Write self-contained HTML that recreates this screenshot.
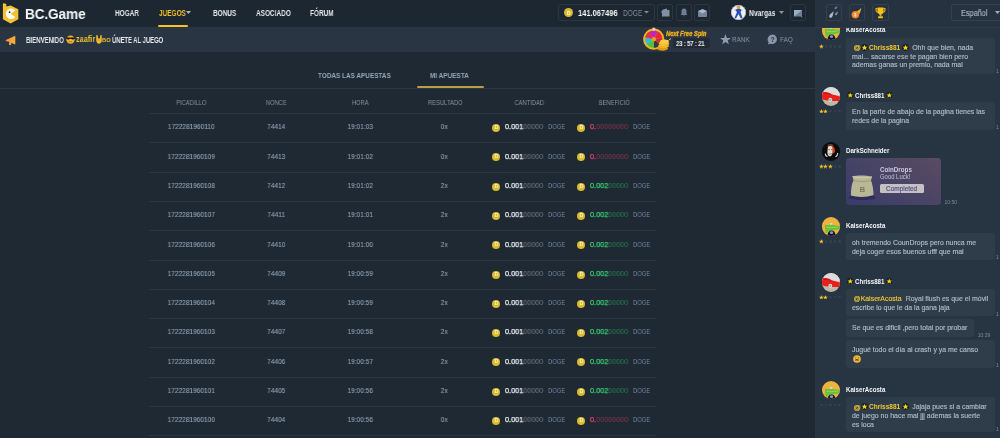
<!DOCTYPE html>
<html><head><meta charset="utf-8">
<style>
*{margin:0;padding:0;box-sizing:border-box}
html,body{width:1000px;height:438px;overflow:hidden;background:#1e2933;font-family:"Liberation Sans",sans-serif;}
.a{position:absolute;white-space:nowrap}
#hdr{position:absolute;left:0;top:0;width:815px;height:27px;background:#1d2732}
#bar{position:absolute;left:0;top:27px;width:815px;height:24.5px;background:#293543}
#main{position:absolute;left:0;top:52px;width:815px;height:386px;background:#1e2933}
#chat{position:absolute;left:815px;top:0;width:185px;height:438px;background:#263240}
.nav{font-size:8.6px;font-weight:bold;color:#e3e6e9;top:7.6px;transform:scaleX(.75);transform-origin:left top}
.ibox{position:absolute;border:1px solid #2c3642;border-radius:2px}
.th{font-size:6px;color:#8693a0;top:98.5px;transform-origin:center top}
.td{font-size:7.5px;color:#a5adb6}
.hl{position:absolute;left:149px;width:507px;height:1px;background:#2b3540}
body>*{will-change:transform}
</style>
<style>
.cw{font-size:8.6px;font-weight:bold;color:#e4e7ea;transform:scaleX(.72);transform-origin:left top;letter-spacing:-0.1px}
.tab{font-size:8px;font-weight:bold;color:#93a6ba;top:70.8px;transform:scaleX(.8);transform-origin:left top}
.th{text-align:center;font-size:6.8px!important;transform:scaleX(.85)}
.td{text-align:center;font-size:7.9px;color:#90a0b2;transform:scaleX(.83);-webkit-text-stroke:.12px #90a0b2}
.amt{font-size:7.4px;transform:scaleX(.98);transform-origin:left top}
.dg{font-size:7.6px;color:#6f88a2;transform:scaleX(.77);transform-origin:left top}
.coin{position:absolute;width:8px;height:8px;border-radius:50%;background:#d9bb2c}.coin::after{content:'D';position:absolute;left:2.4px;top:1.2px;font-size:5.5px;font-weight:bold;color:#f6f0d0;line-height:5.5px}
</style>
</head><body>
<div id="hdr"></div>
<div id="bar"></div>
<div id="main"></div>
<div id="chat"></div>

<!-- logo -->
<svg class="a" style="left:0;top:0" width="22" height="26" viewBox="0 0 22 26">
<path d="M2.9 4 Q2.9 3 3.9 3.3 L6.3 4.1 L6.3 6.6 L10.6 5.4 L18.3 9.3 L18.3 19.3 L10.6 23.5 L2.9 19.3Z" fill="#f2c230"/>
<path d="M10.6 13.8 L15.3 10.6 A5.3 5.3 0 1 0 15.3 17 Z" fill="#fdfcf6"/>
<circle cx="9.6" cy="12.2" r=".9" fill="#2b2b2b"/>
</svg>
<div class="a" style="left:25px;top:6.2px;font-size:14px;font-weight:bold;color:#fbfbfc;letter-spacing:-0.1px;transform:scaleX(.97);transform-origin:left top">BC.Game</div>

<div class="a nav" style="left:115px">HOGAR</div>
<div class="a nav" style="left:159px;color:#f3c229">JUEGOS</div>
<svg class="a" style="left:186px;top:11px" width="5" height="3"><path d="M0 0H5L2.5 3Z" fill="#aeb6bf"/></svg>
<div class="a" style="left:158px;top:25px;width:30px;height:2px;background:#f3c229;border-radius:1px"></div>
<div class="a nav" style="left:213px">BONUS</div>
<div class="a nav" style="left:256px">ASOCIADO</div>
<div class="a nav" style="left:310px">FÓRUM</div>


<!-- header right -->
<div class="ibox" style="left:558px;top:4px;width:97px;height:17px"></div>
<div class="a" style="left:564px;top:8.2px;width:9.4px;height:9.4px;border-radius:50%;background:#dcb92a"></div>
<div class="a" style="left:566.5px;top:9.5px;font-size:5px;color:#fff;font-weight:bold">D</div>
<div class="a" style="left:578px;top:8px;font-size:8.5px;font-weight:bold;color:#f2f4f6;transform:scaleX(.88);transform-origin:left top">141.067496</div>
<div class="a" style="left:623px;top:7.6px;font-size:8.4px;color:#7d8a98;transform:scaleX(.78);transform-origin:left top">DOGE</div>
<svg class="a" style="left:644px;top:11px" width="5" height="3"><path d="M0 0H5L2.5 2.6Z" fill="#7d8a98"/></svg>
<div class="ibox" style="left:657px;top:4px;width:16px;height:17px"></div>
<div class="ibox" style="left:676px;top:4px;width:16px;height:17px"></div>
<div class="ibox" style="left:694px;top:4px;width:16px;height:17px"></div>
<!-- wallet icon -->
<svg class="a" style="left:661px;top:8px" width="9" height="9" viewBox="0 0 9 9"><path d="M2 1.5 L6 0.5 L6 2 L8.5 2 L8.5 8.5 L1 8.5 L1 5 L0 4Z" fill="#7f90a3"/></svg>
<!-- bell -->
<svg class="a" style="left:680px;top:8px" width="8" height="9" viewBox="0 0 8 9"><path d="M4 0.5C2 0.5 1.5 2 1.5 4 L1.5 6 L0.5 7 L7.5 7 L6.5 6 L6.5 4 C6.5 2 6 0.5 4 0.5Z M3 7.6 H5 L4 8.6Z" fill="#6f8095"/></svg>
<!-- mail -->
<svg class="a" style="left:697.5px;top:8.5px" width="9" height="8" viewBox="0 0 9 8"><rect x="0" y="1.5" width="9" height="6.5" rx="1" fill="#76869a"/><path d="M0.3 2 L4.5 0 L8.7 2 L4.5 4.6Z" fill="#a9b9c9"/></svg>
<div class="a" style="left:722px;top:5px;width:1px;height:16px;background:#1f2831"></div>
<!-- avatar -->
<div class="a" style="left:731px;top:5px;width:15px;height:15px;border-radius:50%;background:#eef0f3;overflow:hidden;box-shadow:inset 0 0 0 .6px #9aa4ae">
<svg width="15" height="15" viewBox="0 0 15 15"><path d="M5.5 1.5 C6 0.5 9 0.5 9.5 1.5 L9 4 L6 4Z" fill="#e0a048"/><path d="M4 5 L6 4 L9 4 L11 5 L9.5 7 L11.5 13 L9.8 13.5 L7.5 9 L5 13.5 L3.5 13 L6 7Z" fill="#2a4fb0"/><path d="M3 4.5 L4.5 6 M12 4.5 L10.5 6" stroke="#c8ccd4" stroke-width="1"/></svg></div>
<div class="a" style="left:749px;top:8px;font-size:8.5px;font-weight:bold;color:#e6e9ec;transform:scaleX(.79);transform-origin:left top">Nvargas</div>
<svg class="a" style="left:779px;top:11px" width="5" height="3"><path d="M0 0H5L2.5 3Z" fill="#8a96a3"/></svg>
<div class="ibox" style="left:790px;top:4px;width:16px;height:17px"></div>
<svg class="a" style="left:793.5px;top:9.5px" width="9" height="8" viewBox="0 0 9 8"><path d="M0 0H8V6.5L8.5 8L6.5 6.5H0Z" fill="#6d8096"/><path d="M0 0H8L0 6.5Z" fill="#9db0c4"/></svg>

<!-- chat header -->
<div class="a" style="left:815px;top:27px;width:185px;height:1px;background:#2f3b48"></div>
<div class="ibox" style="left:826px;top:4px;width:16px;height:17px;border-color:#33404d"></div>
<div class="ibox" style="left:849px;top:4px;width:16px;height:17px;border-color:#33404d"></div>
<div class="ibox" style="left:872px;top:4px;width:17px;height:17px;border-color:#33404d"></div>
<div class="ibox" style="left:951px;top:4px;width:52px;height:17px;border-color:#33404d"></div>
<div class="a" style="left:961px;top:7.8px;font-size:8.5px;color:#a9b4c0;transform:scaleX(.86);transform-origin:left top;-webkit-text-stroke:.15px #a9b4c0">Español</div>
<svg class="a" style="left:995px;top:11px" width="5" height="3"><path d="M0 0H5L2.5 3Z" fill="#a3adb8"/></svg>
<!-- chat header icons -->
<svg class="a" style="left:826px;top:4px" width="16" height="17" viewBox="0 0 16 17">
<path d="M3.2 12.3 C3.2 10.5 5.5 8.6 7.8 7.2 C7 9.5 7.2 12 5.6 13.4 C4.6 14.2 3.2 13.8 3.2 12.3Z" fill="#a9b8c7"/>
<path d="M8.5 4.2 C8.6 3.4 10 2.5 11.6 2 C11 3.2 11 4.6 10 5.1 C9.3 5.5 8.4 5.1 8.5 4.2Z" fill="#6f8093"/>
<path d="M9 10.2 C9.1 9.2 10.5 8.1 12.1 7.5 C11.5 9 11.5 10.6 10.5 11.2 C9.8 11.6 8.9 11.1 9 10.2Z" fill="#7d8ea0"/>
</svg>
<svg class="a" style="left:849px;top:4px" width="16" height="17" viewBox="0 0 16 17">
<path d="M12.3 3.2 C11.5 5 10.5 5.5 9.6 6.2 C8.5 7 7 7.5 6 8 L9.5 12 C10.5 10 11 8.5 11.5 7 C12 5.5 12.3 4.5 12.3 3.2Z" fill="#f6b43a"/>
<circle cx="6.3" cy="10.8" r="3.8" fill="#f07a26"/>
<circle cx="6.3" cy="10.8" r="2.8" fill="#f58c36"/>
<path d="M6.3 8.8 V12.8 M5.2 9.8 H7 Q7.4 10.3 6.3 10.8 Q5.2 11.3 5.6 11.8 H7.4" stroke="#fde2c6" stroke-width=".8" fill="none"/>
</svg>
<svg class="a" style="left:872px;top:4px" width="17" height="17" viewBox="0 0 17 17">
<path d="M5.5 3.5 H11.5 V7.5 C11.5 9.5 10 10.6 8.5 10.6 C7 10.6 5.5 9.5 5.5 7.5Z" fill="#f3c21d"/>
<path d="M5.6 4.6 H4 C3.8 7 4.8 8.2 6 8.3 M11.4 4.6 H13 C13.2 7 12.2 8.2 11 8.3" stroke="#e9b016" stroke-width="1.1" fill="none"/>
<rect x="7.7" y="10.2" width="1.6" height="2.3" fill="#e8b018"/>
<rect x="6" y="12.3" width="5" height="1.9" rx=".4" fill="#f0bc1c"/>
</svg>

<!-- megaphone -->
<svg class="a" style="left:5px;top:34.5px" width="12" height="11" viewBox="0 0 12 11"><defs><linearGradient id="mg" x1="0" y1="0" x2="1" y2="0"><stop offset="0" stop-color="#f7923a"/><stop offset="1" stop-color="#f5b23a"/></linearGradient></defs><path d="M0.8 5 L10.3 0.8 L10.3 9.4 L6.5 8 L5.8 10 L4 10 L4.2 6.8 L0.8 6Z" fill="url(#mg)"/></svg>
<div class="a cw" style="left:26px;top:35px">BIENVENIDO</div>
<svg class="a" style="left:65.8px;top:34.8px" width="9" height="9" viewBox="0 0 9 9"><circle cx="4.5" cy="4.6" r="4.2" fill="#f0b52c"/><path d="M0.2 2.6H8.8V3.6C8 4.8 6 4.8 4.9 3.8 H4.1 C3 4.8 1 4.8 0.2 3.6Z" fill="#15110c"/><path d="M2.8 6.4 Q4.5 7.6 6.2 6.4" stroke="#7a5510" stroke-width=".6" fill="none"/></svg>
<div class="a" style="left:75.7px;top:34.3px;font-size:9.2px;font-weight:bold;color:#eec22c;transform:scaleX(.8);transform-origin:left top">zaafir</div>
<svg class="a" style="left:96px;top:35px" width="6" height="9" viewBox="0 0 6 9"><path d="M0.3 0 L1.6 0.2 L2.2 3.6 L3.8 3.6 L4.4 0.2 L5.7 0 L5.8 5 C5.8 7.5 4.5 8.8 3 8.8 C1.5 8.8 0.2 7.5 0.2 5Z" fill="#f2b72e"/><path d="M1.5 5 L4.5 5" stroke="#c88a14" stroke-width=".5"/></svg>
<div class="a" style="left:102.3px;top:38.2px;font-size:4.6px;font-weight:bold;color:#e9c02a;transform:scaleX(1.25);transform-origin:left top">BO</div>
<div class="a cw" style="left:111.5px;top:35px;transform:scaleX(.695)">ÚNETE AL JUEGO</div>

<!-- spin wheel -->
<svg class="a" style="left:642px;top:27px" width="32" height="25" viewBox="0 0 32 25">
<circle cx="11.8" cy="12.2" r="10.6" fill="#f2b51e"/>
<g transform="translate(11.8 12.2)">
<path d="M0 0 L0 -8.6 A8.6 8.6 0 0 1 6.7 -5.4Z" fill="#c21fd0" transform="rotate(-25)"/>
<path d="M0 0 L0 -8.6 A8.6 8.6 0 0 1 6.7 -5.4Z" fill="#e02a3c" transform="rotate(27)"/>
<path d="M0 0 L0 -8.6 A8.6 8.6 0 0 1 6.7 -5.4Z" fill="#d6283a" transform="rotate(78)"/>
<path d="M0 0 L0 -8.6 A8.6 8.6 0 0 1 6.7 -5.4Z" fill="#2f3a45" transform="rotate(130)"/>
<path d="M0 0 L0 -8.6 A8.6 8.6 0 0 1 6.7 -5.4Z" fill="#46c43c" transform="rotate(181)"/>
<path d="M0 0 L0 -8.6 A8.6 8.6 0 0 1 6.7 -5.4Z" fill="#33b8e6" transform="rotate(232)"/>
<path d="M0 0 L0 -8.6 A8.6 8.6 0 0 1 6.7 -5.4Z" fill="#6a20c8" transform="rotate(284)"/>
<path d="M0 0 L0 -8.6 A8.6 8.6 0 0 1 6.7 -5.4Z" fill="#e23344" transform="rotate(-77)"/>
<circle r="2.2" fill="#f39a1a"/>
</g>
<circle cx="11.8" cy="2.2" r="1.5" fill="#d8dde3" stroke="#f2b51e" stroke-width=".6"/>
<ellipse cx="20.5" cy="21.5" rx="5.5" ry="2.2" fill="#e09a14"/>
<ellipse cx="21.5" cy="19" rx="5.5" ry="2.2" fill="#f0b424"/>
<ellipse cx="22" cy="16.5" rx="5.2" ry="2.1" fill="#f5c232"/>
<ellipse cx="22.5" cy="14.3" rx="4.5" ry="1.9" fill="#f8cd45"/>
<path d="M27 13 L29 11.5" stroke="#f5d25a" stroke-width="1"/>
</svg>
<div class="a" style="left:666.4px;top:28.8px;font-size:7.8px;font-weight:bold;font-style:italic;color:#eeb020;transform:scaleX(.74);transform-origin:left top;-webkit-text-stroke:0.4px #eeb020">Next Free Spin</div>
<div class="a" style="left:673.2px;top:38px;width:37.2px;height:10.4px;background:#222b35;border-radius:2px"></div>
<div class="a" style="left:675.6px;top:39.5px;font-size:7px;font-weight:bold;color:#e8ebee;transform:scaleX(.85);transform-origin:left top;letter-spacing:-.2px">23 : 57 : 21</div>
<svg class="a" style="left:719.5px;top:34px" width="11" height="10.5" viewBox="0 0 24 23"><path d="M12 0 L15 8.5 L24 8.7 L16.8 14 L19.4 22.7 L12 17.5 L4.6 22.7 L7.2 14 L0 8.7 L9 8.5Z" fill="#8d9db0"/></svg>
<div class="a" style="left:732px;top:34.5px;font-size:8px;color:#8795a4;transform:scaleX(.8);transform-origin:left top">RANK</div>
<svg class="a" style="left:766.5px;top:34px" width="11" height="11" viewBox="0 0 11 11"><path d="M5.5 0.5 A4.8 4.8 0 1 1 3.2 9.7 L1 10.5 L1.6 8.2 A4.8 4.8 0 0 1 5.5 0.5Z" fill="#8797a9"/><text x="5.7" y="8.2" font-size="7" font-weight="bold" text-anchor="middle" fill="#2a3543" font-family="Liberation Sans">?</text></svg>
<div class="a" style="left:780px;top:34.5px;font-size:8px;color:#8795a4;transform:scaleX(.8);transform-origin:left top">FAQ</div>

<!-- tabs -->
<div class="a tab" style="left:318px">TODAS LAS APUESTAS</div>
<div class="a tab" style="left:430px">MI APUESTA</div>
<div class="a" style="left:0;top:88px;width:815px;height:1px;background:#2d3945"></div>
<div class="a" style="left:417px;top:86.3px;width:66.5px;height:2px;background:#bb9d48;border-radius:1px"></div>

<div class="a th" style="left:149.0px;width:84.5px">PICADILLO</div>
<div class="a th" style="left:233.5px;width:84.5px">NONCE</div>
<div class="a th" style="left:318.0px;width:84.5px">HORA</div>
<div class="a th" style="left:402.5px;width:84.5px">RESULTADO</div>
<div class="a th" style="left:487.0px;width:84.5px">CANTIDAD</div>
<div class="a th" style="left:571.5px;width:84.5px">BENEFICIÓ</div>
<div class="hl" style="top:113.0px"></div>
<div class="a td" style="left:149.0px;top:122.3px;width:84.5px">1722281960110</div>
<div class="a td" style="left:233.5px;top:122.3px;width:84.5px">74414</div>
<div class="a td" style="left:318.0px;top:122.3px;width:84.5px">19:01:03</div>
<div class="a td" style="left:401.5px;top:122.3px;width:84.5px">0x</div>
<div class="coin" style="left:492px;top:124.0px"></div>
<div class="a amt" style="left:504.5px;top:122.3px"><span style="color:#eef0f3;-webkit-text-stroke:.25px #eef0f3">0.001</span><span style="color:#737c87">00000</span></div>
<div class="a dg" style="left:548px;top:122.3px">DOGE</div>
<div class="coin" style="left:577px;top:124.0px"></div>
<div class="a amt" style="left:589.5px;top:122.3px"><span style="color:#ee4468;-webkit-text-stroke:.25px #ee4468">0.</span><span style="color:#8e3650">00000000</span></div>
<div class="a dg" style="left:633px;top:122.3px">DOGE</div>
<div class="hl" style="top:142.3px"></div>
<div class="a td" style="left:149.0px;top:151.6px;width:84.5px">1722281960109</div>
<div class="a td" style="left:233.5px;top:151.6px;width:84.5px">74413</div>
<div class="a td" style="left:318.0px;top:151.6px;width:84.5px">19:01:02</div>
<div class="a td" style="left:401.5px;top:151.6px;width:84.5px">0x</div>
<div class="coin" style="left:492px;top:153.3px"></div>
<div class="a amt" style="left:504.5px;top:151.6px"><span style="color:#eef0f3;-webkit-text-stroke:.25px #eef0f3">0.001</span><span style="color:#737c87">00000</span></div>
<div class="a dg" style="left:548px;top:151.6px">DOGE</div>
<div class="coin" style="left:577px;top:153.3px"></div>
<div class="a amt" style="left:589.5px;top:151.6px"><span style="color:#ee4468;-webkit-text-stroke:.25px #ee4468">0.</span><span style="color:#8e3650">00000000</span></div>
<div class="a dg" style="left:633px;top:151.6px">DOGE</div>
<div class="hl" style="top:171.6px"></div>
<div class="a td" style="left:149.0px;top:180.9px;width:84.5px">1722281960108</div>
<div class="a td" style="left:233.5px;top:180.9px;width:84.5px">74412</div>
<div class="a td" style="left:318.0px;top:180.9px;width:84.5px">19:01:02</div>
<div class="a td" style="left:401.5px;top:180.9px;width:84.5px">2x</div>
<div class="coin" style="left:492px;top:182.6px"></div>
<div class="a amt" style="left:504.5px;top:180.9px"><span style="color:#eef0f3;-webkit-text-stroke:.25px #eef0f3">0.001</span><span style="color:#737c87">00000</span></div>
<div class="a dg" style="left:548px;top:180.9px">DOGE</div>
<div class="coin" style="left:577px;top:182.6px"></div>
<div class="a amt" style="left:589.5px;top:180.9px"><span style="color:#3cd070;-webkit-text-stroke:.25px #3cd070">0.002</span><span style="color:#2a8050">00000</span></div>
<div class="a dg" style="left:633px;top:180.9px">DOGE</div>
<div class="hl" style="top:200.9px"></div>
<div class="a td" style="left:149.0px;top:210.2px;width:84.5px">1722281960107</div>
<div class="a td" style="left:233.5px;top:210.2px;width:84.5px">74411</div>
<div class="a td" style="left:318.0px;top:210.2px;width:84.5px">19:01:01</div>
<div class="a td" style="left:401.5px;top:210.2px;width:84.5px">2x</div>
<div class="coin" style="left:492px;top:211.9px"></div>
<div class="a amt" style="left:504.5px;top:210.2px"><span style="color:#eef0f3;-webkit-text-stroke:.25px #eef0f3">0.001</span><span style="color:#737c87">00000</span></div>
<div class="a dg" style="left:548px;top:210.2px">DOGE</div>
<div class="coin" style="left:577px;top:211.9px"></div>
<div class="a amt" style="left:589.5px;top:210.2px"><span style="color:#3cd070;-webkit-text-stroke:.25px #3cd070">0.002</span><span style="color:#2a8050">00000</span></div>
<div class="a dg" style="left:633px;top:210.2px">DOGE</div>
<div class="hl" style="top:230.2px"></div>
<div class="a td" style="left:149.0px;top:239.5px;width:84.5px">1722281960106</div>
<div class="a td" style="left:233.5px;top:239.5px;width:84.5px">74410</div>
<div class="a td" style="left:318.0px;top:239.5px;width:84.5px">19:01:00</div>
<div class="a td" style="left:401.5px;top:239.5px;width:84.5px">2x</div>
<div class="coin" style="left:492px;top:241.2px"></div>
<div class="a amt" style="left:504.5px;top:239.5px"><span style="color:#eef0f3;-webkit-text-stroke:.25px #eef0f3">0.001</span><span style="color:#737c87">00000</span></div>
<div class="a dg" style="left:548px;top:239.5px">DOGE</div>
<div class="coin" style="left:577px;top:241.2px"></div>
<div class="a amt" style="left:589.5px;top:239.5px"><span style="color:#3cd070;-webkit-text-stroke:.25px #3cd070">0.002</span><span style="color:#2a8050">00000</span></div>
<div class="a dg" style="left:633px;top:239.5px">DOGE</div>
<div class="hl" style="top:259.5px"></div>
<div class="a td" style="left:149.0px;top:268.8px;width:84.5px">1722281960105</div>
<div class="a td" style="left:233.5px;top:268.8px;width:84.5px">74409</div>
<div class="a td" style="left:318.0px;top:268.8px;width:84.5px">19:00:59</div>
<div class="a td" style="left:401.5px;top:268.8px;width:84.5px">2x</div>
<div class="coin" style="left:492px;top:270.5px"></div>
<div class="a amt" style="left:504.5px;top:268.8px"><span style="color:#eef0f3;-webkit-text-stroke:.25px #eef0f3">0.001</span><span style="color:#737c87">00000</span></div>
<div class="a dg" style="left:548px;top:268.8px">DOGE</div>
<div class="coin" style="left:577px;top:270.5px"></div>
<div class="a amt" style="left:589.5px;top:268.8px"><span style="color:#3cd070;-webkit-text-stroke:.25px #3cd070">0.002</span><span style="color:#2a8050">00000</span></div>
<div class="a dg" style="left:633px;top:268.8px">DOGE</div>
<div class="hl" style="top:288.8px"></div>
<div class="a td" style="left:149.0px;top:298.1px;width:84.5px">1722281960104</div>
<div class="a td" style="left:233.5px;top:298.1px;width:84.5px">74408</div>
<div class="a td" style="left:318.0px;top:298.1px;width:84.5px">19:00:59</div>
<div class="a td" style="left:401.5px;top:298.1px;width:84.5px">2x</div>
<div class="coin" style="left:492px;top:299.8px"></div>
<div class="a amt" style="left:504.5px;top:298.1px"><span style="color:#eef0f3;-webkit-text-stroke:.25px #eef0f3">0.001</span><span style="color:#737c87">00000</span></div>
<div class="a dg" style="left:548px;top:298.1px">DOGE</div>
<div class="coin" style="left:577px;top:299.8px"></div>
<div class="a amt" style="left:589.5px;top:298.1px"><span style="color:#3cd070;-webkit-text-stroke:.25px #3cd070">0.002</span><span style="color:#2a8050">00000</span></div>
<div class="a dg" style="left:633px;top:298.1px">DOGE</div>
<div class="hl" style="top:318.1px"></div>
<div class="a td" style="left:149.0px;top:327.4px;width:84.5px">1722281960103</div>
<div class="a td" style="left:233.5px;top:327.4px;width:84.5px">74407</div>
<div class="a td" style="left:318.0px;top:327.4px;width:84.5px">19:00:58</div>
<div class="a td" style="left:401.5px;top:327.4px;width:84.5px">2x</div>
<div class="coin" style="left:492px;top:329.1px"></div>
<div class="a amt" style="left:504.5px;top:327.4px"><span style="color:#eef0f3;-webkit-text-stroke:.25px #eef0f3">0.001</span><span style="color:#737c87">00000</span></div>
<div class="a dg" style="left:548px;top:327.4px">DOGE</div>
<div class="coin" style="left:577px;top:329.1px"></div>
<div class="a amt" style="left:589.5px;top:327.4px"><span style="color:#3cd070;-webkit-text-stroke:.25px #3cd070">0.002</span><span style="color:#2a8050">00000</span></div>
<div class="a dg" style="left:633px;top:327.4px">DOGE</div>
<div class="hl" style="top:347.4px"></div>
<div class="a td" style="left:149.0px;top:356.7px;width:84.5px">1722281960102</div>
<div class="a td" style="left:233.5px;top:356.7px;width:84.5px">74406</div>
<div class="a td" style="left:318.0px;top:356.7px;width:84.5px">19:00:57</div>
<div class="a td" style="left:401.5px;top:356.7px;width:84.5px">2x</div>
<div class="coin" style="left:492px;top:358.4px"></div>
<div class="a amt" style="left:504.5px;top:356.7px"><span style="color:#eef0f3;-webkit-text-stroke:.25px #eef0f3">0.001</span><span style="color:#737c87">00000</span></div>
<div class="a dg" style="left:548px;top:356.7px">DOGE</div>
<div class="coin" style="left:577px;top:358.4px"></div>
<div class="a amt" style="left:589.5px;top:356.7px"><span style="color:#3cd070;-webkit-text-stroke:.25px #3cd070">0.002</span><span style="color:#2a8050">00000</span></div>
<div class="a dg" style="left:633px;top:356.7px">DOGE</div>
<div class="hl" style="top:376.7px"></div>
<div class="a td" style="left:149.0px;top:386.0px;width:84.5px">1722281960101</div>
<div class="a td" style="left:233.5px;top:386.0px;width:84.5px">74405</div>
<div class="a td" style="left:318.0px;top:386.0px;width:84.5px">19:00:56</div>
<div class="a td" style="left:401.5px;top:386.0px;width:84.5px">2x</div>
<div class="coin" style="left:492px;top:387.7px"></div>
<div class="a amt" style="left:504.5px;top:386.0px"><span style="color:#eef0f3;-webkit-text-stroke:.25px #eef0f3">0.001</span><span style="color:#737c87">00000</span></div>
<div class="a dg" style="left:548px;top:386.0px">DOGE</div>
<div class="coin" style="left:577px;top:387.7px"></div>
<div class="a amt" style="left:589.5px;top:386.0px"><span style="color:#3cd070;-webkit-text-stroke:.25px #3cd070">0.002</span><span style="color:#2a8050">00000</span></div>
<div class="a dg" style="left:633px;top:386.0px">DOGE</div>
<div class="hl" style="top:406.0px"></div>
<div class="a td" style="left:149.0px;top:415.3px;width:84.5px">1722281960100</div>
<div class="a td" style="left:233.5px;top:415.3px;width:84.5px">74404</div>
<div class="a td" style="left:318.0px;top:415.3px;width:84.5px">19:00:56</div>
<div class="a td" style="left:401.5px;top:415.3px;width:84.5px">0x</div>
<div class="coin" style="left:492px;top:417.0px"></div>
<div class="a amt" style="left:504.5px;top:415.3px"><span style="color:#eef0f3;-webkit-text-stroke:.25px #eef0f3">0.001</span><span style="color:#737c87">00000</span></div>
<div class="a dg" style="left:548px;top:415.3px">DOGE</div>
<div class="coin" style="left:577px;top:417.0px"></div>
<div class="a amt" style="left:589.5px;top:415.3px"><span style="color:#ee4468;-webkit-text-stroke:.25px #ee4468">0.</span><span style="color:#8e3650">00000000</span></div>
<div class="a dg" style="left:633px;top:415.3px">DOGE</div>
<div class="hl" style="top:435.3px"></div><style>
.bub{position:absolute;left:846px;background:#2f3d4b;border-radius:3px}
.mt{position:absolute;left:852px;font-size:6.95px;color:#afbbc7;white-space:nowrap;line-height:8.9px;-webkit-text-stroke:0.15px #afbbc7}
.nm{position:absolute;font-size:7.5px;font-weight:bold;color:#f4f6f8;white-space:nowrap;transform:scaleX(.82);transform-origin:left top}
.av{position:absolute;left:821.5px;width:18.5px;height:18.5px;border-radius:50%;overflow:hidden}
.ts{position:absolute;font-size:5px;color:#7e8b98;white-space:nowrap}
.yl{color:#f1c730!important;-webkit-text-stroke-color:#f1c730!important}
</style>
<!-- chat scroll area -->
<div class="a" style="left:815px;top:28px;width:185px;height:410px;background:#273442;overflow:hidden"></div>
<div style="position:absolute;left:0;top:0;width:1000px;height:438px;clip-path:inset(28px 0 0 815px)"><div class="av" style="top:21.3px;background:#f0b23e"><svg width="18.5" height="18.5" viewBox="0 0 20 20"><path d="M3 8.5 L8 9 C8.5 7.5 9 6.5 10 6.5 C11.2 6.5 11.8 7.5 12 9 C14.5 9 17.5 9.5 20 10 L20 13 C17 13.5 14 14 11 14.5 L7 15 C6 16.5 5 17.5 4 17 C3.5 14 3.2 11 3 8.5Z" fill="#6cc13a"/><path d="M5 11 C8 11.5 12 11.5 17 11" stroke="#9ad864" stroke-width=".9" fill="none"/><ellipse cx="10" cy="7.5" rx="1.6" ry="1" fill="#d6e8c8"/><path d="M6 20.5 C6 16.5 7.5 14.5 10.3 14.5 C13.1 14.5 14.6 16.5 14.6 20.5Z" fill="#10162a"/><ellipse cx="10.3" cy="17" rx="1.8" ry="1.5" fill="#8c96d4"/></svg></div>
<div class="nm" style="left:845.5px;top:24.5px">KaiserAcosta</div>
<svg class="a" style="left:818.9px;top:43.9px" width="4.8" height="4.8" viewBox="0 0 24 23"><path d="M12 0 L15 8.5 L24 8.7 L16.8 14 L19.4 22.7 L12 17.5 L4.6 22.7 L7.2 14 L0 8.7 L9 8.5Z" fill="#f0bd26"/></svg><div class="a" style="left:824.5px;top:45.1px;width:2.6px;height:2.6px;border-radius:50%;background:#34424f"></div><div class="a" style="left:829.1px;top:45.1px;width:2.6px;height:2.6px;border-radius:50%;background:#34424f"></div><div class="a" style="left:833.6px;top:45.1px;width:2.6px;height:2.6px;border-radius:50%;background:#34424f"></div><div class="a" style="left:838.2px;top:45.1px;width:2.6px;height:2.6px;border-radius:50%;background:#34424f"></div>
<div class="bub" style="top:37.6px;width:149px;height:36.4px"></div>
<div class="a yl" style="left:853.4px;top:44.3px;font-size:7.2px;line-height:8.9px;-webkit-text-stroke:.2px #f1c730">@</div><svg class="a" style="left:861.4px;top:43.7px" width="7" height="7" viewBox="0 0 10 10"><circle cx="5" cy="5" r="5" fill="#18212a"/><path d="M5 0.9 L6.2 3.8 L9.3 3.9 L6.9 5.8 L7.8 8.9 L5 7.1 L2.2 8.9 L3.1 5.8 L0.7 3.9 L3.8 3.8Z" fill="#f5d60f"/></svg><div class="a yl" style="left:869.4px;top:43.6px;font-size:6.95px;line-height:8.9px;font-weight:bold;transform:scaleX(.94);transform-origin:left top">Chriss881</div><svg class="a" style="left:902.2px;top:43.7px" width="7" height="7" viewBox="0 0 10 10"><circle cx="5" cy="5" r="5" fill="#18212a"/><path d="M5 0.9 L6.2 3.8 L9.3 3.9 L6.9 5.8 L7.8 8.9 L5 7.1 L2.2 8.9 L3.1 5.8 L0.7 3.9 L3.8 3.8Z" fill="#f5d60f"/></svg><div class="mt " style="left:912.2px;top:43.6px">Ohh que bien, nada</div>
<div class="mt " style="left:852px;top:52.5px">mal... sacarse ese te pagan bien pero</div>
<div class="mt " style="left:852px;top:61.4px">ademas ganas un premio, nada mal</div>
<div class="ts" style="left:996px;top:68px">1</div>
<div class="av" style="top:87px;background:#c2b8a8"><svg width="18.5" height="18.5" viewBox="0 0 20 20"><rect x="0" y="0" width="20" height="9" fill="#dcdcdc"/><path d="M0 5.5 C4 5 7 5.5 10 7.5 C13 8.5 17 9.5 20 10.5 L20 15 C16 15.5 12 15 9 14.8 C6 14.4 2 14 0 13.5Z" fill="#e8201c"/><path d="M2 7 C5 6.5 8 7 10 8.5" stroke="#b81010" stroke-width=".8" fill="none"/><circle cx="9" cy="13.8" r="2.1" fill="#d8dcd8"/><circle cx="9" cy="13.8" r="1" fill="#9a9a98"/></svg></div>
<svg class="a" style="left:847.4px;top:91.6px" width="6.5" height="6.5" viewBox="0 0 10 10"><circle cx="5" cy="5" r="5" fill="#18212a"/><path d="M5 0.9 L6.2 3.8 L9.3 3.9 L6.9 5.8 L7.8 8.9 L5 7.1 L2.2 8.9 L3.1 5.8 L0.7 3.9 L3.8 3.8Z" fill="#f5d60f"/></svg>
<div class="nm" style="left:854.6px;top:90.5px">Chriss881</div>
<svg class="a" style="left:885.6px;top:91.6px" width="6.5" height="6.5" viewBox="0 0 10 10"><circle cx="5" cy="5" r="5" fill="#18212a"/><path d="M5 0.9 L6.2 3.8 L9.3 3.9 L6.9 5.8 L7.8 8.9 L5 7.1 L2.2 8.9 L3.1 5.8 L0.7 3.9 L3.8 3.8Z" fill="#f5d60f"/></svg>
<svg class="a" style="left:818.9px;top:108.6px" width="4.8" height="4.8" viewBox="0 0 24 23"><path d="M12 0 L15 8.5 L24 8.7 L16.8 14 L19.4 22.7 L12 17.5 L4.6 22.7 L7.2 14 L0 8.7 L9 8.5Z" fill="#f0bd26"/></svg><svg class="a" style="left:823.4px;top:108.6px" width="4.8" height="4.8" viewBox="0 0 24 23"><path d="M12 0 L15 8.5 L24 8.7 L16.8 14 L19.4 22.7 L12 17.5 L4.6 22.7 L7.2 14 L0 8.7 L9 8.5Z" fill="#f0bd26"/></svg><div class="a" style="left:829.1px;top:109.8px;width:2.6px;height:2.6px;border-radius:50%;background:#34424f"></div><div class="a" style="left:833.6px;top:109.8px;width:2.6px;height:2.6px;border-radius:50%;background:#34424f"></div><div class="a" style="left:838.2px;top:109.8px;width:2.6px;height:2.6px;border-radius:50%;background:#34424f"></div>
<div class="bub" style="top:102.2px;width:149px;height:27.4px"></div>
<div class="mt " style="left:852px;top:107.9px">En la parte de abajo de la pagina tienes las</div>
<div class="mt " style="left:852px;top:116.9px">redes de la pagina</div>
<div class="ts" style="left:996px;top:124px">1</div>
<div class="av" style="top:142.4px;background:#0c0c0c"><svg width="18.5" height="18.5" viewBox="0 0 20 20"><path d="M6 3 C8 1.5 11 1.8 12.5 3.5 L11.5 10 L6 10Z" fill="#6a3a22"/><path d="M6.5 5 C8 3.8 10.5 4 11.5 5.5 L11.5 11.5 C11 14 9.5 15.5 8.5 15.5 C7 15.5 6 13.5 5.8 11.5Z" fill="#e8dcd0"/><path d="M11.5 4.5 C13.5 5.5 14.5 8 14 11 L12 12.5 L11.5 6Z" fill="#d83a14"/><path d="M7 8.2 L8.6 8.2 M9.8 8.2 L11 8.2" stroke="#4a3028" stroke-width=".7"/><path d="M7.2 12.5 C8 13.2 9.5 13.2 10.5 12.5" stroke="#5a3a30" stroke-width=".7" fill="none"/><path d="M3.5 12.5 C3.8 14.5 5 15.5 6 15.5" stroke="#d8d8d8" stroke-width="1.2" fill="none"/><path d="M17 12 C17 14 16 15.5 14.5 16" stroke="#cfcfcf" stroke-width="1.2" fill="none"/></svg></div>
<div class="nm" style="left:845.5px;top:146px">DarkSchneider</div>
<svg class="a" style="left:818.9px;top:164.1px" width="4.8" height="4.8" viewBox="0 0 24 23"><path d="M12 0 L15 8.5 L24 8.7 L16.8 14 L19.4 22.7 L12 17.5 L4.6 22.7 L7.2 14 L0 8.7 L9 8.5Z" fill="#f0bd26"/></svg><svg class="a" style="left:823.4px;top:164.1px" width="4.8" height="4.8" viewBox="0 0 24 23"><path d="M12 0 L15 8.5 L24 8.7 L16.8 14 L19.4 22.7 L12 17.5 L4.6 22.7 L7.2 14 L0 8.7 L9 8.5Z" fill="#f0bd26"/></svg><svg class="a" style="left:828.0px;top:164.1px" width="4.8" height="4.8" viewBox="0 0 24 23"><path d="M12 0 L15 8.5 L24 8.7 L16.8 14 L19.4 22.7 L12 17.5 L4.6 22.7 L7.2 14 L0 8.7 L9 8.5Z" fill="#f0bd26"/></svg><div class="a" style="left:833.6px;top:165.3px;width:2.6px;height:2.6px;border-radius:50%;background:#34424f"></div><div class="a" style="left:838.2px;top:165.3px;width:2.6px;height:2.6px;border-radius:50%;background:#34424f"></div>
'<div class="a" style="left:846px;top:157.8px;width:95.2px;height:47.2px;border-radius:3px;background:linear-gradient(35deg,#3a3b6c 0%,#484465 50%,#5a4b62 100%)"></div>
<svg class="a" style="left:847px;top:173px" width="32" height="28" viewBox="0 0 32 28">
<ellipse cx="15" cy="24.5" rx="13.5" ry="2.6" fill="#2b2b5c"/>
<path d="M5.5 3.5 C10 2 19 2 25 3.8 L24 7.5 C25.5 11 26.5 17 26.5 22 C20 24.5 10 24.5 4 22.5 C4 17 4.5 11 6.5 7.5Z" fill="#b9b896"/>
<path d="M6.5 7.5 C12 8.8 19 8.8 24 7.5" stroke="#9a9874" stroke-width=".9" fill="none"/>
<path d="M5.5 3.5 C10 5 19 5 25 3.8" stroke="#cfcdb0" stroke-width=".8" fill="none"/>
<text x="15.5" y="18.5" font-size="8" font-weight="bold" text-anchor="middle" fill="#7c7a58" font-family="Liberation Sans">B</text>
</svg>
<div class="a" style="left:880px;top:164.6px;font-size:7.8px;font-weight:bold;color:#cccbdc;transform:scaleX(.8);transform-origin:left top">CoinDrops</div>
<div class="a" style="left:880px;top:172.3px;font-size:7.4px;color:#c4c0d4;transform:scaleX(.8);transform-origin:left top">Good Luck!</div>
<div class="a" style="left:880.2px;top:184.1px;width:43.8px;height:8.7px;background:#c6c1c0;border-radius:1.5px"></div>
<div class="a" style="left:885.5px;top:184.2px;font-size:7.6px;color:#4a4e8c;transform:scaleX(.85);transform-origin:left top;-webkit-text-stroke:.2px #4a4e8c">Completed</div>

<div class="ts" style="left:944.5px;top:199px">10:50</div>
<div class="av" style="top:217.4px;background:#f0b23e"><svg width="18.5" height="18.5" viewBox="0 0 20 20"><path d="M3 8.5 L8 9 C8.5 7.5 9 6.5 10 6.5 C11.2 6.5 11.8 7.5 12 9 C14.5 9 17.5 9.5 20 10 L20 13 C17 13.5 14 14 11 14.5 L7 15 C6 16.5 5 17.5 4 17 C3.5 14 3.2 11 3 8.5Z" fill="#6cc13a"/><path d="M5 11 C8 11.5 12 11.5 17 11" stroke="#9ad864" stroke-width=".9" fill="none"/><ellipse cx="10" cy="7.5" rx="1.6" ry="1" fill="#d6e8c8"/><path d="M6 20.5 C6 16.5 7.5 14.5 10.3 14.5 C13.1 14.5 14.6 16.5 14.6 20.5Z" fill="#10162a"/><ellipse cx="10.3" cy="17" rx="1.8" ry="1.5" fill="#8c96d4"/></svg></div>
<div class="nm" style="left:845.5px;top:221px">KaiserAcosta</div>
<svg class="a" style="left:818.9px;top:239.1px" width="4.8" height="4.8" viewBox="0 0 24 23"><path d="M12 0 L15 8.5 L24 8.7 L16.8 14 L19.4 22.7 L12 17.5 L4.6 22.7 L7.2 14 L0 8.7 L9 8.5Z" fill="#f0bd26"/></svg><div class="a" style="left:824.5px;top:240.3px;width:2.6px;height:2.6px;border-radius:50%;background:#34424f"></div><div class="a" style="left:829.1px;top:240.3px;width:2.6px;height:2.6px;border-radius:50%;background:#34424f"></div><div class="a" style="left:833.6px;top:240.3px;width:2.6px;height:2.6px;border-radius:50%;background:#34424f"></div><div class="a" style="left:838.2px;top:240.3px;width:2.6px;height:2.6px;border-radius:50%;background:#34424f"></div>
<div class="bub" style="top:233.1px;width:149px;height:27.2px"></div>
<div class="mt " style="left:852px;top:239.0px">oh tremendo CounDrops pero nunca me</div>
<div class="mt " style="left:852px;top:247.8px">deja coger esos buenos ufff que mal</div>
<div class="ts" style="left:996px;top:254px">1</div>
<div class="av" style="top:273.3px;background:#c2b8a8"><svg width="18.5" height="18.5" viewBox="0 0 20 20"><rect x="0" y="0" width="20" height="9" fill="#dcdcdc"/><path d="M0 5.5 C4 5 7 5.5 10 7.5 C13 8.5 17 9.5 20 10.5 L20 15 C16 15.5 12 15 9 14.8 C6 14.4 2 14 0 13.5Z" fill="#e8201c"/><path d="M2 7 C5 6.5 8 7 10 8.5" stroke="#b81010" stroke-width=".8" fill="none"/><circle cx="9" cy="13.8" r="2.1" fill="#d8dcd8"/><circle cx="9" cy="13.8" r="1" fill="#9a9a98"/></svg></div>
<svg class="a" style="left:847.4px;top:277.6px" width="6.5" height="6.5" viewBox="0 0 10 10"><circle cx="5" cy="5" r="5" fill="#18212a"/><path d="M5 0.9 L6.2 3.8 L9.3 3.9 L6.9 5.8 L7.8 8.9 L5 7.1 L2.2 8.9 L3.1 5.8 L0.7 3.9 L3.8 3.8Z" fill="#f5d60f"/></svg>
<div class="nm" style="left:854.6px;top:276.5px">Chriss881</div>
<svg class="a" style="left:885.6px;top:277.6px" width="6.5" height="6.5" viewBox="0 0 10 10"><circle cx="5" cy="5" r="5" fill="#18212a"/><path d="M5 0.9 L6.2 3.8 L9.3 3.9 L6.9 5.8 L7.8 8.9 L5 7.1 L2.2 8.9 L3.1 5.8 L0.7 3.9 L3.8 3.8Z" fill="#f5d60f"/></svg>
<svg class="a" style="left:818.9px;top:294.6px" width="4.8" height="4.8" viewBox="0 0 24 23"><path d="M12 0 L15 8.5 L24 8.7 L16.8 14 L19.4 22.7 L12 17.5 L4.6 22.7 L7.2 14 L0 8.7 L9 8.5Z" fill="#f0bd26"/></svg><svg class="a" style="left:823.4px;top:294.6px" width="4.8" height="4.8" viewBox="0 0 24 23"><path d="M12 0 L15 8.5 L24 8.7 L16.8 14 L19.4 22.7 L12 17.5 L4.6 22.7 L7.2 14 L0 8.7 L9 8.5Z" fill="#f0bd26"/></svg><div class="a" style="left:829.1px;top:295.8px;width:2.6px;height:2.6px;border-radius:50%;background:#34424f"></div><div class="a" style="left:833.6px;top:295.8px;width:2.6px;height:2.6px;border-radius:50%;background:#34424f"></div><div class="a" style="left:838.2px;top:295.8px;width:2.6px;height:2.6px;border-radius:50%;background:#34424f"></div>
<div class="bub" style="top:288.7px;width:149px;height:27.4px"></div>
<div class="mt yl" style="left:853.6px;top:295.3px">@KaiserAcosta</div>
<div class="mt " style="left:905.7px;top:295.3px">Royal flush es que el móvil</div>
<div class="mt " style="left:852px;top:304.1px">escribe lo que le da la gana jaja</div>
<div class="ts" style="left:996px;top:311px">1</div>
<div class="bub" style="top:319.4px;width:127.7px;height:18.1px"></div>
<div class="mt " style="left:852px;top:324.3px">Se que es dificil ,pero total por probar</div>
<div class="ts" style="left:977.8px;top:332px">10:39</div>
<div class="bub" style="top:340.4px;width:149px;height:27.5px"></div>
<div class="mt " style="left:852px;top:346.2px">Jugué todo el día al crash y ya me canso</div>
'<svg class="a" style="left:852.6px;top:354.5px" width="8" height="8" viewBox="0 0 10 10"><circle cx="5" cy="5" r="4.8" fill="#f3b73a"/><path d="M2.5 6.2 Q5 3.8 7.5 6.2 L7.5 7 L2.5 7Z" fill="#5a3a10"/><path d="M2.6 3.8 L4 3.2 M7.4 3.8 L6 3.2" stroke="#5a3a10" stroke-width=".8"/></svg>
<div class="ts" style="left:996px;top:362px">1</div>
<div class="av" style="top:380.8px;background:#f0b23e"><svg width="18.5" height="18.5" viewBox="0 0 20 20"><path d="M3 8.5 L8 9 C8.5 7.5 9 6.5 10 6.5 C11.2 6.5 11.8 7.5 12 9 C14.5 9 17.5 9.5 20 10 L20 13 C17 13.5 14 14 11 14.5 L7 15 C6 16.5 5 17.5 4 17 C3.5 14 3.2 11 3 8.5Z" fill="#6cc13a"/><path d="M5 11 C8 11.5 12 11.5 17 11" stroke="#9ad864" stroke-width=".9" fill="none"/><ellipse cx="10" cy="7.5" rx="1.6" ry="1" fill="#d6e8c8"/><path d="M6 20.5 C6 16.5 7.5 14.5 10.3 14.5 C13.1 14.5 14.6 16.5 14.6 20.5Z" fill="#10162a"/><ellipse cx="10.3" cy="17" rx="1.8" ry="1.5" fill="#8c96d4"/></svg></div>
<div class="nm" style="left:846px;top:384.5px">KaiserAcosta</div>
<div class="a" style="left:820.0px;top:403.6px;width:2.6px;height:2.6px;border-radius:50%;background:#34424f"></div><div class="a" style="left:824.5px;top:403.6px;width:2.6px;height:2.6px;border-radius:50%;background:#34424f"></div><div class="a" style="left:829.1px;top:403.6px;width:2.6px;height:2.6px;border-radius:50%;background:#34424f"></div><div class="a" style="left:833.6px;top:403.6px;width:2.6px;height:2.6px;border-radius:50%;background:#34424f"></div><div class="a" style="left:838.2px;top:403.6px;width:2.6px;height:2.6px;border-radius:50%;background:#34424f"></div>
<div class="bub" style="top:396.6px;width:149px;height:35.4px"></div>
<div class="a yl" style="left:853.4px;top:403.5px;font-size:7.2px;line-height:8.9px;-webkit-text-stroke:.2px #f1c730">@</div><svg class="a" style="left:861.4px;top:402.90000000000003px" width="7" height="7" viewBox="0 0 10 10"><circle cx="5" cy="5" r="5" fill="#18212a"/><path d="M5 0.9 L6.2 3.8 L9.3 3.9 L6.9 5.8 L7.8 8.9 L5 7.1 L2.2 8.9 L3.1 5.8 L0.7 3.9 L3.8 3.8Z" fill="#f5d60f"/></svg><div class="a yl" style="left:869.4px;top:402.8px;font-size:6.95px;line-height:8.9px;font-weight:bold;transform:scaleX(.94);transform-origin:left top">Chriss881</div><svg class="a" style="left:902.2px;top:402.90000000000003px" width="7" height="7" viewBox="0 0 10 10"><circle cx="5" cy="5" r="5" fill="#18212a"/><path d="M5 0.9 L6.2 3.8 L9.3 3.9 L6.9 5.8 L7.8 8.9 L5 7.1 L2.2 8.9 L3.1 5.8 L0.7 3.9 L3.8 3.8Z" fill="#f5d60f"/></svg><div class="mt " style="left:912.2px;top:402.8px">Jajaja pues si a cambiar</div>
<div class="mt " style="left:852px;top:411.8px">de juego no hace mal jjj ademas la suerte</div>
<div class="mt " style="left:852px;top:420.6px">es loca</div>
<div class="ts" style="left:996px;top:426px">1</div></div>
</body></html>
